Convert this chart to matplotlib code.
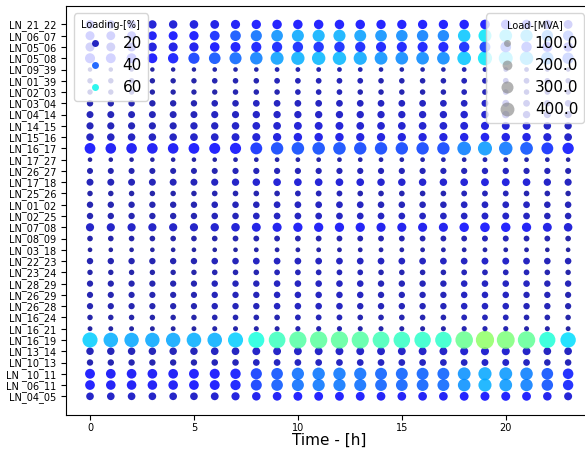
import numpy as np
import matplotlib
matplotlib.use("Agg")
import matplotlib.pyplot as plt
from matplotlib.colors import Normalize
from matplotlib.lines import Line2D

hours = list(range(24))

# branches, listed from the top of the chart down
line_names = ["LN_21_22", "LN_06_07", "LN_05_06", "LN_05_08", "LN_09_39", "LN_01_39",
              "LN_02_03", "LN_03_04", "LN_04_14", "LN_14_15", "LN_15_16", "LN_16_17",
              "LN_17_27", "LN_26_27", "LN_17_18", "LN_25_26", "LN_01_02", "LN_02_25",
              "LN_07_08", "LN_08_09", "LN_03_18", "LN_22_23", "LN_23_24", "LN_28_29",
              "LN_26_29", "LN_26_28", "LN_16_24", "LN_16_21", "LN_16_19", "LN_13_14",
              "LN_10_13", "LN _10_11", "LN _06_11", "LN_04_05"]

# thermal rating of each branch [MVA]
rating_mva = [640, 600, 680, 720, 260, 360, 350, 470, 530, 560, 590, 860,
              270, 420, 530, 370, 470, 470, 660, 390, 280, 470, 360, 450,
              440, 450, 370, 310, 860, 610, 470, 720, 700, 580]

# hourly loading [%] per branch
loading_pct = [
    [24, 23, 23, 23, 23, 24, 25, 27, 28, 29, 29, 29, 29, 29, 28, 28, 28, 28, 29, 30, 30, 29, 27, 25],
    [28, 27, 27, 27, 28, 30, 33, 39, 43, 47, 50, 51, 51, 49, 47, 46, 45, 45, 54, 58, 56, 52, 45, 37],
    [25, 24, 24, 24, 25, 26, 28, 30, 31, 32, 33, 33, 33, 32, 31, 31, 31, 31, 33, 36, 35, 33, 30, 27],
    [29, 28, 28, 28, 31, 36, 39, 42, 45, 49, 51, 52, 52, 50, 47, 46, 46, 46, 54, 58, 56, 52, 45, 37],
    [16, 16, 16, 16, 16, 16, 17, 17, 17, 18, 18, 18, 18, 18, 17, 17, 17, 17, 18, 18, 18, 18, 17, 16],
    [17, 17, 17, 17, 17, 17, 18, 18, 18, 19, 19, 19, 19, 19, 18, 18, 18, 18, 19, 19, 19, 19, 18, 17],
    [17, 17, 17, 17, 17, 17, 17, 18, 18, 18, 19, 19, 19, 18, 18, 18, 18, 18, 19, 19, 19, 18, 18, 17],
    [18, 18, 18, 18, 18, 18, 19, 19, 20, 20, 20, 20, 20, 20, 20, 20, 20, 20, 20, 21, 21, 20, 19, 19],
    [19, 19, 19, 19, 19, 19, 20, 20, 21, 21, 21, 21, 21, 21, 21, 21, 21, 21, 22, 22, 22, 21, 20, 20],
    [19, 19, 19, 19, 19, 20, 20, 21, 22, 22, 23, 23, 23, 22, 22, 22, 22, 22, 23, 24, 23, 23, 21, 20],
    [20, 20, 20, 20, 20, 21, 21, 22, 23, 24, 25, 25, 25, 24, 24, 24, 24, 24, 25, 26, 25, 25, 23, 21],
    [28, 27, 27, 27, 27, 28, 29, 30, 34, 37, 38, 38, 38, 37, 37, 37, 37, 37, 45, 48, 44, 39, 34, 31],
    [16, 16, 16, 16, 16, 16, 16, 17, 17, 17, 17, 17, 17, 17, 17, 17, 17, 17, 17, 18, 18, 17, 17, 16],
    [18, 18, 18, 18, 18, 18, 18, 19, 19, 19, 19, 19, 19, 19, 19, 19, 19, 19, 19, 20, 20, 19, 19, 18],
    [19, 19, 19, 19, 19, 19, 20, 21, 22, 23, 23, 23, 23, 23, 22, 22, 22, 22, 23, 24, 24, 23, 21, 20],
    [17, 17, 17, 17, 17, 17, 18, 18, 18, 18, 19, 19, 19, 18, 18, 18, 18, 18, 19, 19, 19, 18, 18, 17],
    [18, 18, 18, 18, 18, 18, 19, 19, 19, 20, 20, 20, 20, 20, 19, 19, 19, 19, 20, 20, 20, 20, 19, 19],
    [18, 18, 18, 18, 18, 18, 19, 19, 20, 20, 20, 20, 20, 20, 20, 20, 20, 20, 20, 21, 21, 20, 19, 19],
    [21, 21, 21, 21, 21, 21, 22, 23, 25, 26, 27, 27, 27, 27, 26, 26, 26, 26, 28, 29, 28, 27, 25, 23],
    [17, 17, 17, 17, 17, 17, 17, 18, 18, 18, 18, 18, 18, 18, 18, 18, 18, 18, 18, 19, 19, 18, 18, 17],
    [16, 16, 16, 16, 16, 16, 16, 16, 17, 17, 17, 17, 17, 17, 17, 17, 17, 17, 17, 17, 17, 17, 16, 16],
    [18, 18, 18, 18, 18, 18, 19, 19, 20, 20, 20, 20, 20, 20, 20, 20, 20, 20, 20, 21, 21, 20, 19, 19],
    [17, 17, 17, 17, 17, 17, 18, 18, 18, 19, 19, 19, 19, 19, 18, 18, 18, 18, 19, 19, 19, 19, 18, 17],
    [18, 18, 18, 18, 18, 18, 19, 19, 19, 20, 20, 20, 20, 20, 19, 19, 19, 19, 20, 20, 20, 20, 19, 19],
    [18, 18, 18, 18, 18, 18, 19, 19, 19, 20, 20, 20, 20, 20, 19, 19, 19, 19, 20, 20, 20, 19, 19, 18],
    [18, 18, 18, 18, 18, 18, 19, 19, 19, 20, 20, 20, 20, 19, 19, 19, 19, 19, 20, 20, 20, 19, 19, 18],
    [17, 17, 17, 17, 17, 17, 18, 18, 18, 18, 19, 19, 19, 18, 18, 18, 18, 18, 19, 19, 19, 18, 18, 17],
    [16, 16, 16, 16, 16, 16, 17, 17, 17, 17, 18, 18, 18, 17, 17, 17, 17, 17, 18, 18, 18, 17, 17, 16],
    [55, 51, 50, 50, 50, 51, 51, 55, 62, 67, 71, 72, 72, 71, 68, 66, 65, 65, 74, 80, 77, 73, 63, 57],
    [19, 19, 19, 19, 19, 19, 20, 20, 21, 21, 21, 21, 21, 21, 21, 21, 21, 21, 22, 22, 22, 21, 20, 20],
    [18, 18, 18, 18, 18, 18, 19, 19, 20, 20, 20, 20, 20, 20, 20, 20, 20, 20, 20, 21, 21, 20, 19, 19],
    [28, 27, 27, 27, 27, 28, 29, 31, 36, 39, 43, 44, 44, 43, 41, 41, 41, 41, 47, 50, 48, 45, 39, 32],
    [28, 27, 27, 27, 27, 28, 29, 31, 36, 40, 43, 44, 44, 43, 41, 41, 41, 42, 47, 51, 48, 45, 39, 32],
    [21, 21, 21, 21, 21, 21, 22, 24, 26, 27, 28, 28, 28, 28, 27, 27, 27, 27, 28, 29, 29, 28, 26, 23],
]

color_ticks = [20, 40, 60]
size_ticks = [100.0, 200.0, 300.0, 400.0]
size_scale = 0.25  # marker area [pt^2] per MVA

# flatten, bottom row first so the categorical axis runs upwards
xs, ys, pct, load = [], [], [], []
for name, rating, row in reversed(list(zip(line_names, rating_mva, loading_pct))):
    for h, p in zip(hours, row):
        xs.append(h)
        ys.append(name)
        pct.append(p)
        load.append(rating * p / 100.0)
pct = np.array(pct, dtype=float)
load = np.array(load)

cmap = plt.get_cmap("jet")
norm = Normalize(vmin=14, vmax=140)

fig = plt.figure(figsize=(5.85, 4.5), dpi=100)
ax = fig.add_axes([0.113, 0.078, 0.899, 0.909])
ax.scatter(xs, ys, c=pct, s=load * size_scale, cmap=cmap, norm=norm, alpha=0.85,
           linewidths=0)
ax.set_xlim(-1.15, 24.15)
ax.set_xlabel("Time - [h]", fontsize=11, labelpad=0)
ax.tick_params(axis="both", labelsize=7)
ax.tick_params(axis="x", pad=2)

# colour legend for loading
c_handles = [Line2D([], [], marker="o", linestyle="", color=cmap(norm(v)), alpha=0.85,
                    markersize=5, markeredgewidth=0) for v in color_ticks]
leg1 = ax.legend(c_handles, [str(v) for v in color_ticks], title="Loading-[%]",
                 loc="upper left", fontsize=11, title_fontsize=7, labelspacing=0.45)
ax.add_artist(leg1)

# size legend for load
s_handles = [Line2D([], [], marker="o", linestyle="", color="gray", alpha=0.6,
                    markersize=np.sqrt(v * size_scale), markeredgewidth=0) for v in size_ticks]
ax.legend(s_handles, ["%.1f" % v for v in size_ticks], title="Load-[MVA]",
          loc="upper right", fontsize=11, title_fontsize=7, labelspacing=0.45)

fig.savefig("out.png", dpi=100)
